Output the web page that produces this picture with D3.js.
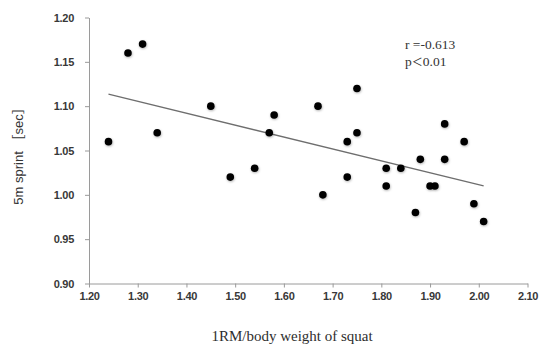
<!DOCTYPE html>
<html>
<head>
<meta charset="utf-8">
<script src="https://cdn.jsdelivr.net/npm/d3@7"></script>
<style>
  html, body { margin: 0; padding: 0; background: #fff; }
  svg { display: block; }
</style>
</head>
<body>
<svg id="chart" width="540" height="347"></svg>
<script>
// Relative squat strength (1RM / body weight) vs. 5 m sprint time
const squatRatio = [1.24, 1.28, 1.31, 1.34, 1.45, 1.49, 1.54, 1.57, 1.58, 1.67, 1.68, 1.73, 1.73, 1.75,
                    1.75, 1.81, 1.81, 1.84, 1.87, 1.88, 1.90, 1.91, 1.93, 1.93, 1.97, 1.99, 2.01];
const sprintTime = [1.06, 1.16, 1.17, 1.07, 1.10, 1.02, 1.03, 1.07, 1.09, 1.10, 1.00, 1.06, 1.02, 1.12,
                    1.07, 1.03, 1.01, 1.03, 0.98, 1.04, 1.01, 1.01, 1.08, 1.04, 1.06, 0.99, 0.97];
const xTicks = [1.20, 1.30, 1.40, 1.50, 1.60, 1.70, 1.80, 1.90, 2.00, 2.10];
const yTicks = [0.90, 0.95, 1.00, 1.05, 1.10, 1.15, 1.20];
const rText = "r =-0.613";
const pParts = ["p", "\uFF1C", "0.01"];

const W = 540, H = 347;
const margin = { top: 17.5, right: 12.5, bottom: 63.5, left: 89 };

const svg = d3.select("#chart");

const x = d3.scaleLinear().domain([1.20, 2.10]).range([margin.left, W - margin.right]);
const y = d3.scaleLinear().domain([0.90, 1.20]).range([H - margin.bottom, margin.top]);

const axisColor = "#9a9a9a";
const tickFont = "'Liberation Sans', Arial, sans-serif";
const serifFont = "'Liberation Serif', 'Times New Roman', 'Noto Sans CJK JP', serif";

// x axis
const gx = svg.append("g")
  .attr("transform", `translate(0,${y(0.90)})`)
  .call(d3.axisBottom(x).tickValues(xTicks).tickFormat(d3.format(".2f")).tickSizeInner(4).tickSizeOuter(0).tickPadding(5));
// y axis
const gy = svg.append("g")
  .attr("transform", `translate(${x(1.20)},0)`)
  .call(d3.axisLeft(y).tickValues(yTicks).tickFormat(d3.format(".2f")).tickSizeInner(4).tickSizeOuter(0).tickPadding(11));

[gx, gy].forEach(g => {
  g.select(".domain").attr("stroke", axisColor).attr("stroke-width", 1);
  g.selectAll(".tick line").attr("stroke", axisColor);
  g.selectAll(".tick text")
    .attr("fill", "#383838")
    .style("font-family", tickFont)
    .style("font-size", "11px")
    .style("font-weight", "bold")
    .style("letter-spacing", "-0.3px");
});

// least-squares trend line over the observed range
const mx = d3.mean(squatRatio), my = d3.mean(sprintTime);
let sxy = 0, sxx = 0;
squatRatio.forEach((v, i) => { sxy += (v - mx) * (sprintTime[i] - my); sxx += (v - mx) * (v - mx); });
const slope = sxy / sxx, intercept = my - slope * mx;
const [x0, x1] = d3.extent(squatRatio);
svg.append("line")
  .attr("x1", x(x0)).attr("y1", y(intercept + slope * x0))
  .attr("x2", x(x1)).attr("y2", y(intercept + slope * x1))
  .attr("stroke", "#6e6e6e")
  .attr("stroke-width", 1.3);

// soft shadow under the markers
const defs = svg.append("defs");
const f = defs.append("filter").attr("id", "dotShadow").attr("x", "-50%").attr("y", "-50%").attr("width", "200%").attr("height", "200%");
f.append("feDropShadow").attr("dx", 0.5).attr("dy", 1).attr("stdDeviation", 0.8)
  .attr("flood-color", "#000").attr("flood-opacity", 0.3);

svg.append("g")
  .selectAll("circle")
  .data(squatRatio.map((v, i) => [v, sprintTime[i]]))
  .join("circle")
  .attr("cx", d => x(d[0]))
  .attr("cy", d => y(d[1]))
  .attr("r", 3.8)
  .attr("fill", "#000")
  .attr("filter", "url(#dotShadow)");

// correlation annotation
const note = svg.append("g")
  .attr("fill", "#333")
  .style("font-family", serifFont)
  .style("font-size", "13.5px");
note.append("text").attr("x", 405).attr("y", 49).text(rText);
const pLine = note.append("text").attr("x", 405).attr("y", 65.5);
pLine.selectAll("tspan")
  .data(pParts)
  .join("tspan")
  .style("font-size", (d, i) => i === 1 ? "11px" : null)
  .text(d => d);

// axis titles
svg.append("text")
  .attr("x", 292)
  .attr("y", 341)
  .attr("text-anchor", "middle")
  .attr("fill", "#2e2e2e")
  .style("font-family", serifFont)
  .style("font-size", "15px")
  .text("1RM/body weight of squat");

svg.append("text")
  .attr("transform", `translate(23,153) rotate(-90)`)
  .attr("text-anchor", "middle")
  .attr("fill", "#333")
  .style("font-family", "'Liberation Sans', Arial, 'Noto Sans CJK JP', sans-serif")
  .style("font-size", "13px")
  .text("5m sprint \uFF3Bsec\uFF3D");
</script>
</body>
</html>
